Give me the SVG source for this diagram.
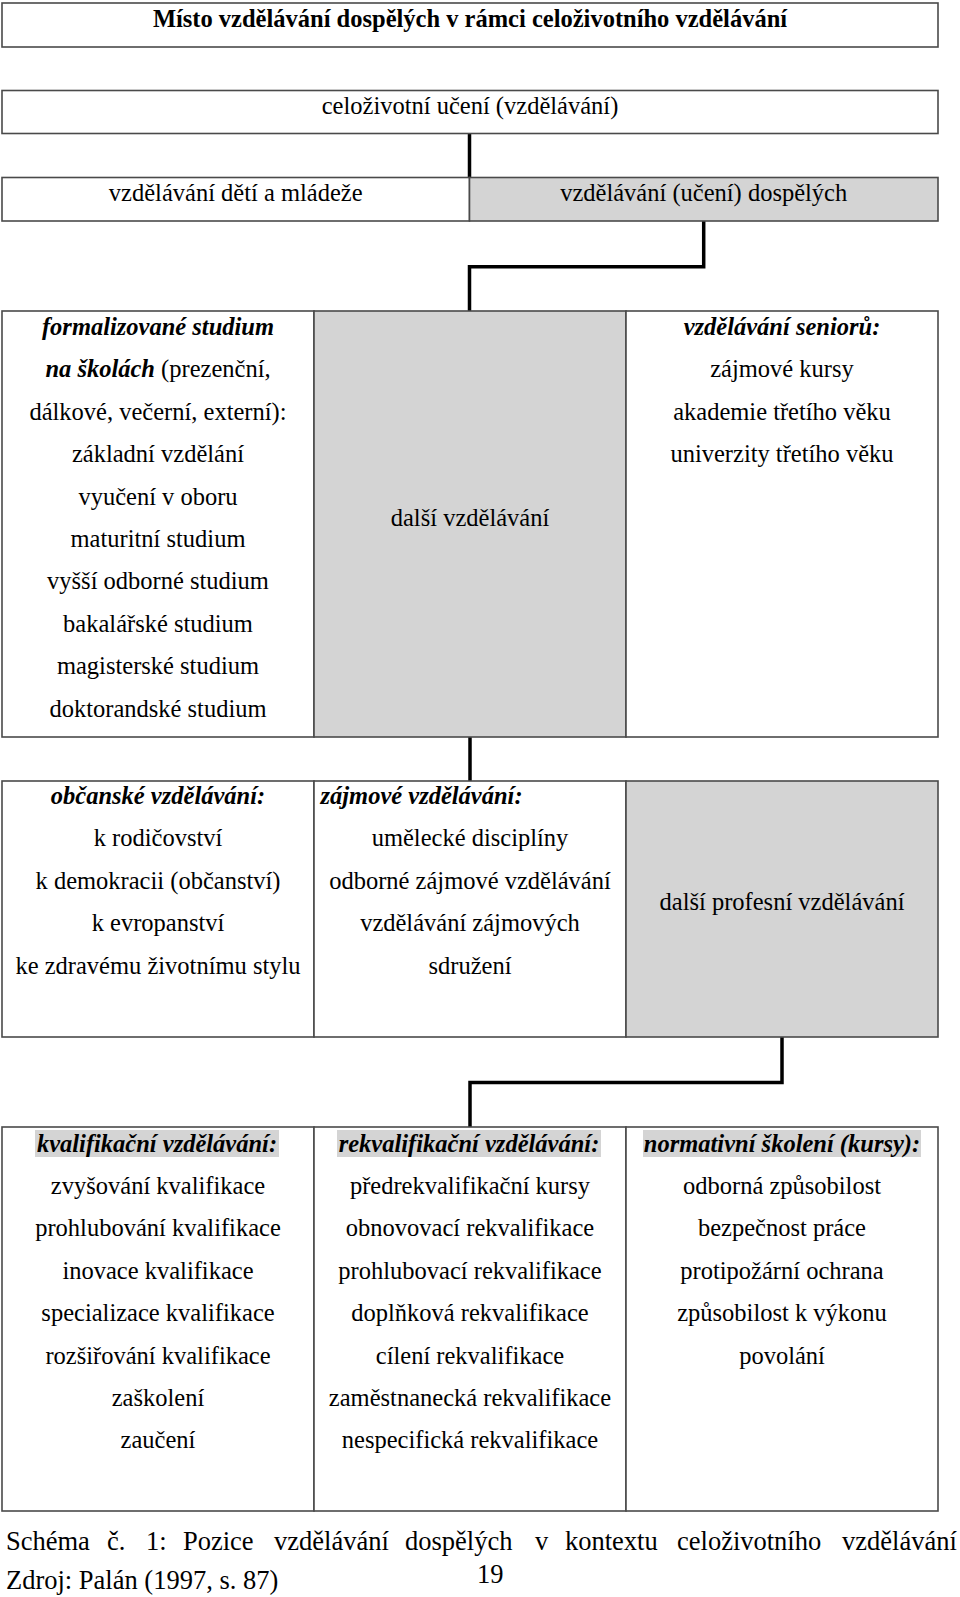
<svg xmlns="http://www.w3.org/2000/svg" width="960" height="1597" viewBox="0 0 960 1597">
<style>
text{font-family:"Liberation Serif","Times New Roman",serif;font-size:24.5px;fill:#000;text-anchor:middle}
.bi{font-weight:bold;font-style:italic}
.b{font-weight:bold}
.l{text-anchor:start}
.cap{font-size:26.5px;text-anchor:start}
.box{fill:#fff;stroke:#4a4a4a;stroke-width:1.6}
.gray{fill:#d4d4d4;stroke:#4a4a4a;stroke-width:1.6}
.hl{fill:#d4d4d4}
.con{fill:none;stroke:#000;stroke-width:3.5}
</style>
<rect width="960" height="1597" fill="#fff"/>
<g id="connectors">
<path class="con" d="M469.5 133.5V177.5"/>
<path class="con" d="M703.7 221V266.8H469.5V311"/>
<path class="con" d="M470 737V781"/>
<path class="con" d="M782 1037V1082.5H470V1127"/>
</g>
<g id="title">
<rect class="box" x="2" y="3" width="936" height="44"/>
<text class="b" x="470" y="27">Místo vzdělávání dospělých v rámci celoživotního vzdělávání</text>
</g>
<g id="celozivotni">
<rect class="box" x="2" y="90.5" width="936" height="43"/>
<text x="470" y="114">celoživotní učení (vzdělávání)</text>
</g>
<g id="deti">
<rect class="box" x="2" y="177.5" width="467.5" height="43.5"/>
<text x="235.7" y="201">vzdělávání dětí a mládeže</text>
</g>
<g id="dospelych">
<rect class="gray" x="469.5" y="177.5" width="468.5" height="43.5"/>
<text x="703.7" y="201">vzdělávání (učení) dospělých</text>
</g>
<g id="formalizovane">
<rect class="box" x="2" y="311" width="312" height="426"/>
<text class="bi" x="158" y="335">formalizované studium</text>
<text x="158" y="377.4"><tspan class="bi">na školách</tspan> (prezenční,</text>
<text x="158" y="419.8">dálkové, večerní, externí):</text>
<text x="158" y="462.2">základní vzdělání</text>
<text x="158" y="504.6">vyučení v oboru</text>
<text x="158" y="547">maturitní studium</text>
<text x="158" y="589.4">vyšší odborné studium</text>
<text x="158" y="631.8">bakalářské studium</text>
<text x="158" y="674.2">magisterské studium</text>
<text x="158" y="716.6">doktorandské studium</text>
</g>
<g id="dalsi">
<rect class="gray" x="314" y="311" width="312" height="426"/>
<text x="470" y="526">další vzdělávání</text>
</g>
<g id="seniori">
<rect class="box" x="626" y="311" width="312" height="426"/>
<text class="bi" x="782" y="335">vzdělávání seniorů:</text>
<text x="782" y="377.4">zájmové kursy</text>
<text x="782" y="419.8">akademie třetího věku</text>
<text x="782" y="462.2">univerzity třetího věku</text>
</g>
<g id="obcanske">
<rect class="box" x="2" y="781" width="312" height="256"/>
<text class="bi" x="158" y="804">občanské vzdělávání:</text>
<text x="158" y="846.4">k rodičovství</text>
<text x="158" y="888.8">k demokracii (občanství)</text>
<text x="158" y="931.2">k evropanství</text>
<text x="158" y="973.6">ke zdravému životnímu stylu</text>
</g>
<g id="zajmove">
<rect class="box" x="314" y="781" width="312" height="256"/>
<text class="bi l" x="320.5" y="804">zájmové vzdělávání:</text>
<text x="470" y="846.4">umělecké disciplíny</text>
<text x="470" y="888.8">odborné zájmové vzdělávání</text>
<text x="470" y="931.2">vzdělávání zájmových</text>
<text x="470" y="973.6">sdružení</text>
</g>
<g id="profesni">
<rect class="gray" x="626" y="781" width="312" height="256"/>
<text x="782" y="910">další profesní vzdělávání</text>
</g>
<g id="kvalifikacni">
<rect class="box" x="2" y="1127" width="312" height="384"/>
<rect class="hl" x="35" y="1130" width="244" height="27"/>
<text class="bi" x="157" y="1151.6">kvalifikační vzdělávání:</text>
<text x="158" y="1194">zvyšování kvalifikace</text>
<text x="158" y="1236.4">prohlubování kvalifikace</text>
<text x="158" y="1278.8">inovace kvalifikace</text>
<text x="158" y="1321.2">specializace kvalifikace</text>
<text x="158" y="1363.6">rozšiřování kvalifikace</text>
<text x="158" y="1406">zaškolení</text>
<text x="158" y="1448.4">zaučení</text>
</g>
<g id="rekvalifikacni">
<rect class="box" x="314" y="1127" width="312" height="384"/>
<rect class="hl" x="337" y="1130" width="264" height="27"/>
<text class="bi" x="469" y="1151.6">rekvalifikační vzdělávání:</text>
<text x="470" y="1194">předrekvalifikační kursy</text>
<text x="470" y="1236.4">obnovovací rekvalifikace</text>
<text x="470" y="1278.8">prohlubovací rekvalifikace</text>
<text x="470" y="1321.2">doplňková rekvalifikace</text>
<text x="470" y="1363.6">cílení rekvalifikace</text>
<text x="470" y="1406">zaměstnanecká rekvalifikace</text>
<text x="470" y="1448.4">nespecifická rekvalifikace</text>
</g>
<g id="normativni">
<rect class="box" x="626" y="1127" width="312" height="384"/>
<rect class="hl" x="643" y="1130" width="278" height="27"/>
<text class="bi" x="782" y="1151.6">normativní školení (kursy):</text>
<text x="782" y="1194">odborná způsobilost</text>
<text x="782" y="1236.4">bezpečnost práce</text>
<text x="782" y="1278.8">protipožární ochrana</text>
<text x="782" y="1321.2">způsobilost k výkonu</text>
<text x="782" y="1363.6">povolání</text>
</g>
<g id="caption">
<text class="cap" y="1550"><tspan x="6">Schéma</tspan><tspan x="107">č.</tspan><tspan x="146">1:</tspan><tspan x="183">Pozice</tspan><tspan x="274">vzdělávání</tspan><tspan x="405">dospělých</tspan><tspan x="535">v</tspan><tspan x="565">kontextu</tspan><tspan x="677">celoživotního</tspan><tspan x="842">vzdělávání</tspan></text>
<text class="cap" x="6" y="1589">Zdroj: Palán (1997, s. 87)</text>
<text class="cap" x="477" y="1583">19</text>
</g>
</svg>
